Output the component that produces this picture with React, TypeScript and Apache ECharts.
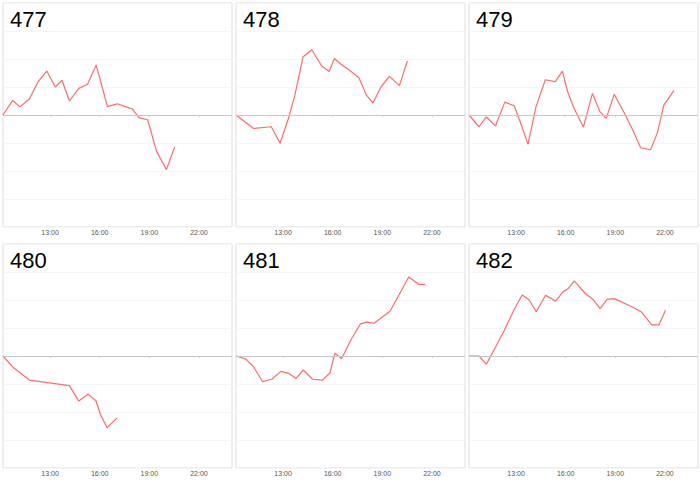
import React, { useEffect, useRef } from "react";
import * as echarts from "echarts";

// Panel names
const panelNames = ["477", "478", "479", "480", "481", "482"];

// Times (HH:MM) and values for each panel
const times477 = ["10:09", "10:44", "11:11", "11:45", "12:16", "12:48", "13:19", "13:43", "14:10", "14:44", "15:16", "15:47", "16:28", "17:04", "17:59", "18:23", "18:54", "19:26", "20:02", "20:32"];
const values477 = [0, 0.52, 0.29, 0.58, 1.18, 1.57, 1.0, 1.24, 0.5, 0.95, 1.1, 1.79, 0.3, 0.4, 0.21, -0.1, -0.17, -1.29, -1.95, -1.14];

const times478 = ["10:09", "11:13", "12:17", "12:49", "13:20", "13:42", "14:12", "14:44", "15:20", "15:47", "16:06", "16:30", "17:01", "17:35", "18:02", "18:26", "18:55", "19:26", "20:02", "20:31"];
const values478 = [0, -0.48, -0.42, -1.01, -0.1, 0.68, 2.07, 2.33, 1.75, 1.55, 2.02, 1.81, 1.6, 1.33, 0.71, 0.43, 1.0, 1.38, 1.05, 1.93];

const times479 = ["10:09", "10:45", "11:12", "11:45", "12:19", "12:53", "13:19", "13:43", "14:12", "14:46", "15:22", "15:48", "16:07", "16:29", "17:04", "17:37", "18:04", "18:27", "18:56", "19:32", "20:01", "20:32", "21:08", "21:33", "21:56", "22:33"];
const values479 = [0, -0.42, -0.07, -0.39, 0.46, 0.33, -0.36, -1.05, 0.29, 1.26, 1.19, 1.57, 0.83, 0.26, -0.43, 0.77, 0.12, -0.12, 0.74, 0.08, -0.49, -1.17, -1.24, -0.63, 0.35, 0.88];

const times480 = ["10:09", "10:45", "11:45", "14:10", "14:44", "15:18", "15:46", "16:03", "16:27", "17:03"];
const values480 = [0, -0.4, -0.86, -1.06, -1.61, -1.36, -1.6, -2.1, -2.56, -2.21];

const times481 = ["10:09", "10:45", "11:12", "11:46", "12:20", "12:52", "13:20", "13:47", "14:13", "14:47", "15:23", "15:50", "16:08", "16:32", "17:07", "17:41", "18:03", "18:30", "19:28", "20:36", "21:12", "21:36"];
const values481 = [0, -0.11, -0.38, -0.92, -0.82, -0.55, -0.62, -0.8, -0.5, -0.83, -0.86, -0.6, 0.1, -0.1, 0.6, 1.15, 1.21, 1.17, 1.6, 2.82, 2.56, 2.56];

const times482 = ["10:09", "10:45", "11:12", "11:46", "12:18", "12:52", "13:22", "13:47", "14:13", "14:47", "15:23", "15:50", "16:08", "16:31", "17:09", "17:39", "18:05", "18:30", "18:56", "20:02", "20:35", "21:12", "21:38", "22:02"];
const values482 = [0, 0, -0.29, 0.33, 0.93, 1.64, 2.18, 2.01, 1.58, 2.17, 1.96, 2.29, 2.4, 2.68, 2.25, 2.02, 1.69, 2.02, 2.05, 1.75, 1.57, 1.11, 1.11, 1.63];

const panelTimes = [times477, times478, times479, times480, times481, times482];
const panelValues = [values477, values478, values479, values480, values481, values482];

// Axis ticks (hours)
const xTickHours = [13, 16, 19, 22];
const xMinHour = 10.15;
const xMaxHour = 24;

const toHours = (t: string) => {
  const [h, m] = t.split(":").map(Number);
  return h + m / 60;
};

const fmtHour = (v: number) => `${Math.round(v)}:00`;

export default function App() {
  const ref = useRef<HTMLDivElement>(null);

  useEffect(() => {
    if (!ref.current) return;
    const chart = echarts.init(ref.current, undefined, { renderer: "svg" });

    const colLefts = [3, 236, 469];
    const rowTops = [3, 244];
    const gw = 229;
    const gh = 224;

    const grids: any[] = [];
    const xAxes: any[] = [];
    const yAxes: any[] = [];
    const series: any[] = [];
    const titles: any[] = [];

    panelNames.forEach((name, i) => {
      const col = i % 3;
      const row = Math.floor(i / 3);
      const left = colLefts[col];
      const top = rowTops[row];
      grids.push({
        left,
        top,
        width: gw,
        height: gh,
        show: true,
        borderColor: "#dddddd",
        borderWidth: 1,
        backgroundColor: "#ffffff",
        containLabel: false,
      });
      xAxes.push({
        type: "value",
        gridIndex: i,
        min: xMinHour,
        max: xMaxHour,
        axisLine: { show: false },
        axisTick: {
          show: true,
          customValues: xTickHours,
          length: 2,
          lineStyle: { color: "#cccccc" },
        },
        axisLabel: {
          customValues: xTickHours,
          formatter: (v: number) => fmtHour(v),
          fontSize: 7,
          color: "#555555",
          margin: 2,
          fontFamily: "Liberation Sans",
        },
        splitLine: { show: false },
      });
      yAxes.push({
        type: "value",
        gridIndex: i,
        min: -4,
        max: 4,
        interval: 1,
        axisLine: { show: false },
        axisTick: { show: false },
        axisLabel: { show: false },
        splitLine: { show: true, lineStyle: { color: "#f5f5f5", width: 1 } },
      });
      const data = panelTimes[i].map((t, k) => [toHours(t), panelValues[i][k]]);
      series.push({
        type: "line",
        xAxisIndex: i,
        yAxisIndex: i,
        data,
        showSymbol: false,
        symbol: "none",
        lineStyle: { color: "#ff6b6b", width: 1.2 },
        itemStyle: { color: "#ff6b6b" },
        markLine: {
          silent: true,
          symbol: "none",
          label: { show: false },
          lineStyle: { color: "#c8c8c8", type: "solid", width: 1.2 },
          data: [{ yAxis: 0 }],
        },
      });
      titles.push({
        text: name,
        left: left + 7,
        top: top + 5,
        padding: 0,
        textStyle: {
          fontSize: 22,
          fontWeight: "normal",
          color: "#000000",
          fontFamily: "Liberation Sans",
        },
      });
    });

    chart.setOption({
      animation: false,
      backgroundColor: "#ffffff",
      title: titles,
      grid: grids,
      xAxis: xAxes,
      yAxis: yAxes,
      series,
    });

    return () => chart.dispose();
  }, []);

  return (
    <div
      ref={ref}
      style={{ position: "fixed", left: 0, top: 0, width: 700, height: 484 }}
    />
  );
}
